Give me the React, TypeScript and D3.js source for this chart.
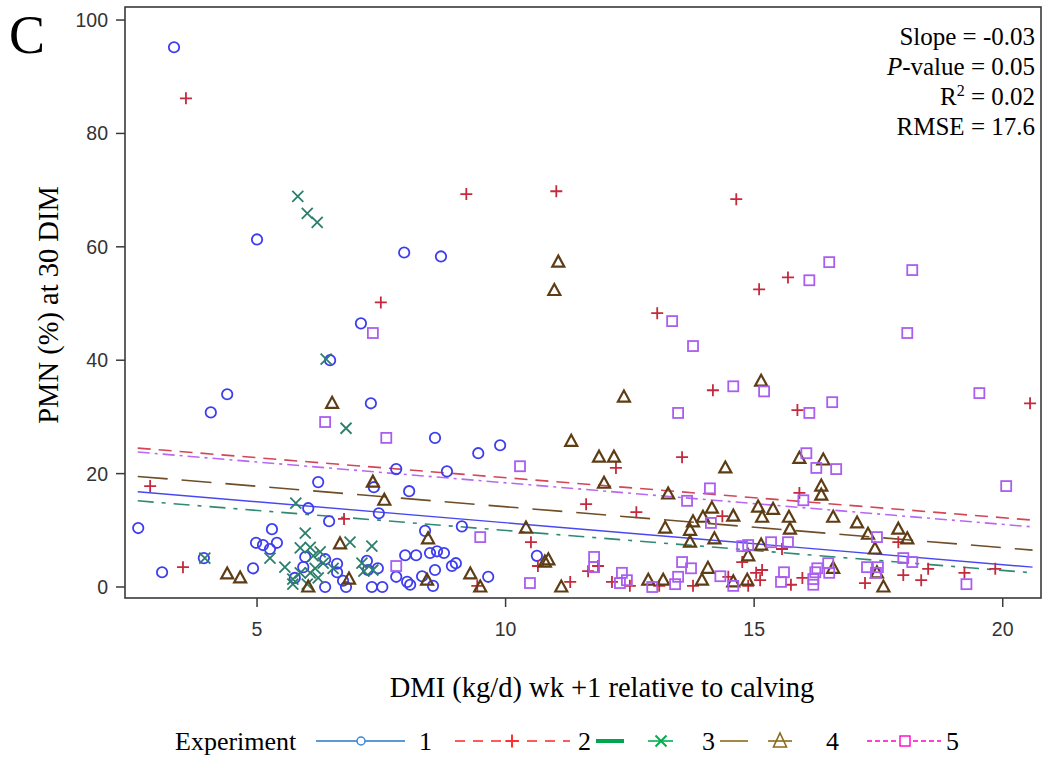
import React from 'react';
import * as d3 from 'd3';

// ---------- data ----------
const exp1X = [3.33, 2.61, 3.09, 3.93, 4.07, 4.40, 5.00, 4.92, 4.98, 5.12, 5.26, 5.40, 5.30, 6.23, 6.03, 6.45, 7.45, 8.06, 8.38, 9.12, 5.97, 5.93, 5.76, 6.37, 6.37, 6.61, 6.61, 6.73, 6.79, 7.21, 7.23, 7.43, 7.31, 7.52, 7.80, 7.98, 8.20, 8.02, 8.08, 8.32, 8.54, 8.58, 8.48, 8.62, 8.76, 8.92, 9.00, 7.96, 8.70, 7.09, 6.47, 7.29, 8.58, 9.45, 9.89, 7.80, 7.35, 8.82, 10.63, 9.65];
const exp1Y = [95.2, 10.4, 2.6, 5.1, 30.8, 34.0, 61.3, 3.3, 7.8, 7.4, 6.7, 7.8, 10.2, 18.5, 13.9, 11.6, 13.0, 16.9, 9.9, 10.7, 5.3, 3.5, 1.6, 4.9, 0, 4.1, 2.6, 1.1, 0, 4.6, 3.0, 3.3, 0, 0, 1.8, 5.6, 5.6, 0.9, 0.4, 1.9, 0.2, 3.0, 6.0, 6.3, 6.0, 3.7, 4.2, 59.0, 58.3, 46.5, 40.0, 32.4, 26.3, 23.6, 25.0, 20.8, 17.6, 20.4, 5.5, 1.8];

const exp2X = [3.57, 2.85, 3.51, 6.75, 9.21, 11.02, 14.64, 7.49, 13.05, 15.10, 15.68, 14.17, 13.55, 15.87, 20.55, 15.91, 14.36, 15.56, 14.76, 14.48, 15.04, 15.16, 15.12, 14.88, 15.74, 15.97, 17.23, 18.00, 18.36, 18.50, 17.90, 19.23, 19.85, 12.22, 11.62, 12.63, 10.51, 10.65, 11.66, 11.86, 11.30, 9.43, 12.14, 12.50, 13.77, 13.09];
const exp2Y = [86.2, 17.8, 3.5, 12.0, 69.3, 69.8, 68.4, 50.2, 48.3, 52.5, 54.6, 34.7, 22.9, 31.2, 32.4, 16.6, 12.5, 6.7, 4.4, 1.8, 2.5, 3.0, 1.2, 0.2, 0.4, 1.6, 0.7, 2.1, 1.2, 3.2, 7.9, 2.5, 3.2, 21.0, 14.6, 13.2, 7.9, 3.7, 2.8, 3.7, 0.9, 0.2, 0.9, 0.2, 0.2, 0.2];

const exp3X = [5.82, 6.01, 6.21, 6.39, 6.79, 5.78, 5.97, 3.95, 5.26, 5.56, 5.87, 6.07, 6.13, 6.27, 6.33, 6.17, 6.07, 6.23, 5.72, 5.72, 6.01, 6.87, 7.31, 7.11, 7.15, 6.53, 5.87, 7.33];
const exp3Y = [68.9, 65.9, 64.3, 40.2, 28.0, 14.8, 9.5, 5.1, 5.1, 3.5, 6.9, 7.0, 5.5, 6.2, 4.2, 3.3, 2.5, 1.6, 1.4, 0.5, 0.5, 7.9, 7.2, 4.2, 2.8, 3.3, 2.5, 3.0];

const exp4X = [4.40, 4.66, 6.03, 6.67, 6.85, 7.33, 7.56, 8.44, 8.42, 9.29, 6.51, 11.06, 10.98, 12.38, 11.32, 11.88, 12.18, 15.14, 9.49, 10.41, 10.79, 10.86, 11.12, 11.98, 13.27, 13.21, 13.77, 13.71, 13.71, 12.87, 13.17, 14.42, 15.91, 16.39, 16.35, 16.35, 14.15, 14.58, 13.97, 15.08, 15.16, 15.38, 15.70, 15.72, 16.59, 17.07, 17.29, 17.90, 18.08, 17.43, 14.20, 14.88, 15.14, 14.07, 13.95, 14.58, 14.86, 16.59, 17.47, 17.60];
const exp4Y = [2.3, 1.6, 0, 7.6, 1.4, 18.5, 15.3, 8.5, 1.2, 2.3, 32.4, 57.3, 52.3, 33.5, 25.7, 22.9, 22.9, 36.3, 0, 10.4, 4.4, 4.8, 0, 18.3, 16.4, 10.4, 11.5, 10.0, 7.9, 1.2, 1.2, 21.0, 22.7, 22.4, 17.8, 16.2, 13.9, 12.5, 12.3, 14.1, 12.3, 13.7, 12.3, 10.2, 12.3, 11.3, 9.3, 10.2, 8.5, 6.7, 8.5, 5.5, 7.4, 3.3, 1.2, 0.9, 1.2, 3.3, 2.5, 0];

const exp5X = [6.37, 7.60, 7.33, 7.80, 9.49, 10.29, 10.49, 13.65, 11.78, 11.78, 12.34, 12.44, 12.30, 12.95, 13.41, 13.47, 13.55, 13.73, 13.35, 13.77, 14.58, 15.20, 13.47, 16.51, 16.11, 18.18, 18.08, 16.57, 16.11, 16.05, 16.25, 16.65, 19.53, 20.07, 14.11, 15.99, 14.13, 14.76, 14.88, 15.34, 15.68, 17.47, 18.00, 18.18, 17.27, 17.49, 17.45, 16.49, 16.27, 16.23, 16.51, 15.60, 15.54, 16.19, 16.19, 14.32, 14.58, 19.27];
const exp5Y = [29.1, 26.3, 44.8, 3.7, 8.8, 21.3, 0.7, 15.2, 5.3, 3.5, 2.5, 1.2, 0.7, 0, 0.5, 1.8, 4.4, 3.3, 46.9, 42.5, 35.4, 34.5, 30.7, 57.3, 54.1, 55.9, 44.8, 32.6, 30.7, 23.6, 21.0, 20.8, 34.2, 17.8, 17.4, 15.3, 11.3, 7.2, 7.4, 7.9, 7.9, 8.8, 5.1, 4.4, 3.5, 3.5, 2.5, 4.2, 3.3, 2.6, 2.5, 2.6, 0.9, 1.4, 0.4, 1.9, 0.2, 0.5];

// fitted regression lines (value at start and end x)
const fitX = [2.6, 20.6];
const fit1 = [16.8, 3.5];
const fit2 = [24.5, 11.8];
const fit3 = [15.2, 2.5];
const fit4 = [19.5, 6.5];
const fit5 = [23.8, 10.6];

const xTicks = [5, 10, 15, 20];
const yTicks = [0, 20, 40, 60, 80, 100];
const legendLabels = ['1', '2', '3', '4', '5'];

const W = 1045;
const H = 759;
const L = 125, R = 1041, T = 7, B = 598;

const serif = "'Liberation Serif', 'Times New Roman', serif";
const sans = "'Liberation Sans', Arial, sans-serif";

const x = d3.scaleLinear().domain([2.344, 20.77]).range([L, R]);
const y = d3.scaleLinear().domain([-1.94, 102.3]).range([B, T]);

const plusPath = 'M-6,0H6M0,-6V6';
const xPath = 'M-5.5,-5.5L5.5,5.5M-5.5,5.5L5.5,-5.5';
const triPath = 'M0,-6.5L6,4.5L-6,4.5Z';

const C1 = '#3d3df0', C2 = '#c42a3c', C3 = '#2b7f6c', C4 = '#5e3d14', C5 = '#aa5ef0';

function Marker({ kind, color, cx, cy, sw = 1.8 }: { kind: number; color: string; cx: number; cy: number; sw?: number }) {
  const t = `translate(${cx},${cy})`;
  if (kind === 1) return <circle cx={cx} cy={cy} r={5.2} fill="none" stroke={color} strokeWidth={sw} />;
  if (kind === 2) return <path d={plusPath} transform={t} fill="none" stroke={color} strokeWidth={sw} />;
  if (kind === 3) return <path d={xPath} transform={t} fill="none" stroke={color} strokeWidth={sw} />;
  if (kind === 4) return <path d={triPath} transform={t} fill="none" stroke={color} strokeWidth={sw + 0.4} strokeLinejoin="miter" />;
  return <rect x={cx - 5} y={cy - 5} width={10} height={10} fill="none" stroke={color} strokeWidth={sw} />;
}

export default function App() {
  const series = [
    { xs: exp1X, ys: exp1Y, kind: 1, color: C1 },
    { xs: exp2X, ys: exp2Y, kind: 2, color: C2 },
    { xs: exp3X, ys: exp3Y, kind: 3, color: C3 },
    { xs: exp4X, ys: exp4Y, kind: 4, color: C4 },
    { xs: exp5X, ys: exp5Y, kind: 5, color: C5 },
  ];
  const fits = [
    { v: fit1, color: '#4848f2', dash: undefined, w: 1.4 },
    { v: fit2, color: '#d24656', dash: '13 8', w: 1.6 },
    { v: fit3, color: '#2f8a74', dash: '16 8 4 8', w: 1.6 },
    { v: fit4, color: '#6f4e26', dash: '30 14', w: 1.6 },
    { v: fit5, color: '#b868f2', dash: '12 5 3 5', w: 1.6 },
  ];
  const line = d3.line<number>().x((_, i) => x(fitX[i])).y((d) => y(d));

  return (
    <svg width={W} height={H} style={{ position: 'absolute', left: 0, top: 0, background: '#fff' }}>
      <rect x={0} y={0} width={W} height={H} fill="#fff" />
      {/* panel letter */}
      <text x={9} y={53} fontFamily={serif} fontSize={54} fill="#000">C</text>

      {/* regression lines */}
      {fits.map((f, i) => (
        <path key={'f' + i} d={line(f.v) || ''} fill="none" stroke={f.color} strokeWidth={f.w} strokeDasharray={f.dash} />
      ))}

      {/* points */}
      {series.map((s, si) => (
        <g key={'s' + si}>
          {s.xs.map((xv, i) => (
            <Marker key={i} kind={s.kind} color={s.color} cx={x(xv)} cy={y(s.ys[i])} />
          ))}
        </g>
      ))}

      {/* frame */}
      <rect x={L} y={T} width={R - L} height={B - T} fill="none" stroke="#3a3a3a" strokeWidth={1.6} />

      {/* y axis */}
      {yTicks.map((t) => (
        <g key={'y' + t}>
          <line x1={L - 9} x2={L} y1={y(t)} y2={y(t)} stroke="#3a3a3a" strokeWidth={1.5} />
          <text x={L - 17} y={y(t)} dy="0.36em" textAnchor="end" fontFamily={sans} fontSize={19.5} fill="#333">{t}</text>
        </g>
      ))}
      {/* x axis */}
      {xTicks.map((t) => (
        <g key={'x' + t}>
          <line x1={x(t)} x2={x(t)} y1={B} y2={B + 9} stroke="#3a3a3a" strokeWidth={1.5} />
          <text x={x(t)} y={B + 38} textAnchor="middle" fontFamily={sans} fontSize={19.5} fill="#333">{t}</text>
        </g>
      ))}

      {/* axis titles */}
      <text x={602} y={697} textAnchor="middle" fontFamily={serif} fontSize={28.5} fill="#000">DMI (kg/d) wk +1 relative to calving</text>
      <text transform={`translate(58,305) rotate(-90)`} textAnchor="middle" fontFamily={serif} fontSize={28.5} fill="#000">PMN (%) at 30 DIM</text>

      {/* stats */}
      <g fontFamily={serif} fontSize={25} fill="#000" textAnchor="end">
        <text x={1035} y={45}>Slope = -0.03</text>
        <text x={1035} y={75}><tspan fontStyle="italic">P</tspan>-value = 0.05</text>
        <text x={1035} y={105}>R<tspan fontSize={16} dy={-9}>2</tspan><tspan dy={9}> = 0.02</tspan></text>
        <text x={1035} y={135}>RMSE = 17.6</text>
      </g>

      {/* legend */}
      <g fontFamily={serif} fontSize={26} fill="#000">
        <text x={175} y={750}>Experiment</text>
        {/* 1 */}
        <line x1={316} x2={405} y1={741} y2={741} stroke="#5b9bd5" strokeWidth={1.8} />
        <circle cx={361} cy={741} r={4} fill="#fff" stroke="#3a86e0" strokeWidth={1.5} />
        <text x={419} y={750}>{legendLabels[0]}</text>
        {/* 2 */}
        <line x1={455} x2={570} y1={741} y2={741} stroke="#ff5a5a" strokeWidth={1.8} strokeDasharray="10 8" />
        <path d={plusPath} transform="translate(512,741) scale(1.1)" stroke="#ff3030" strokeWidth={1.8} fill="none" />
        <text x={578} y={750}>{legendLabels[1]}</text>
        {/* 3 */}
        <line x1={596} x2={624} y1={741} y2={741} stroke="#00a550" strokeWidth={4} />
        <line x1={648} x2={673} y1={741} y2={741} stroke="#00b050" strokeWidth={1.6} />
        <path d={xPath} transform="translate(661,741)" stroke="#00b050" strokeWidth={2} fill="none" />
        <text x={702} y={750}>{legendLabels[2]}</text>
        {/* 4 */}
        <line x1={720} x2={748} y1={741} y2={741} stroke="#8b6b1a" strokeWidth={1.6} />
        <line x1={768} x2={792} y1={741} y2={741} stroke="#8b6b1a" strokeWidth={1.6} />
        <path d="M0,-8L6.5,6L-6.5,6Z" transform="translate(780,741)" stroke="#8b6b1a" strokeWidth={1.6} fill="none" />
        <text x={826} y={750}>{legendLabels[3]}</text>
        {/* 5 */}
        <line x1={867} x2={897} y1={741} y2={741} stroke="#ff00cc" strokeWidth={1.6} strokeDasharray="5 3" />
        <rect x={900} y={736} width={10} height={10} fill="none" stroke="#ff00cc" strokeWidth={1.4} />
        <line x1={913} x2={941} y1={741} y2={741} stroke="#ff00cc" strokeWidth={1.6} strokeDasharray="5 3" />
        <text x={946} y={750}>{legendLabels[4]}</text>
      </g>
    </svg>
  );
}
